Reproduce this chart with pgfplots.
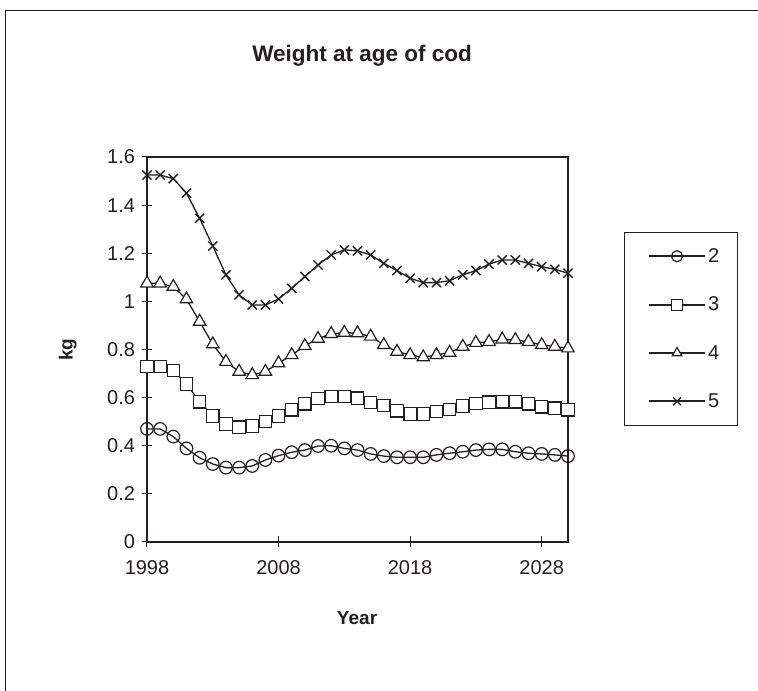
\documentclass[border=0pt]{standalone}
\usepackage{pgfplots}
\pgfplotsset{compat=1.18}
\usepackage{fontspec}
\setmainfont{Liberation Sans}
\definecolor{ink}{HTML}{231F20}

\pgfplotstableread{
year a2 a3 a4 a5
1998 0.470 0.729 1.075 1.525
1999 0.470 0.729 1.075 1.525
2000 0.438 0.712 1.061 1.510
2001 0.389 0.657 1.009 1.450
2002 0.350 0.583 0.916 1.345
2003 0.324 0.524 0.822 1.230
2004 0.309 0.490 0.749 1.110
2005 0.309 0.477 0.708 1.027
2006 0.316 0.482 0.694 0.985
2007 0.341 0.500 0.708 0.985
2008 0.359 0.524 0.743 1.010
2009 0.373 0.549 0.777 1.054
2010 0.382 0.574 0.815 1.103
2011 0.399 0.597 0.845 1.151
2012 0.400 0.604 0.865 1.193
2013 0.389 0.604 0.870 1.214
2014 0.382 0.598 0.868 1.210
2015 0.366 0.580 0.854 1.193
2016 0.357 0.567 0.819 1.158
2017 0.352 0.545 0.791 1.128
2018 0.352 0.532 0.777 1.096
2019 0.352 0.532 0.768 1.078
2020 0.362 0.542 0.777 1.078
2021 0.369 0.550 0.787 1.086
2022 0.375 0.565 0.812 1.110
2023 0.382 0.575 0.828 1.128
2024 0.385 0.581 0.832 1.155
2025 0.385 0.583 0.842 1.172
2026 0.375 0.583 0.840 1.172
2027 0.369 0.574 0.832 1.158
2028 0.366 0.562 0.819 1.144
2029 0.362 0.556 0.812 1.133
2030 0.357 0.549 0.805 1.117
}\cod

\begin{document}
\begin{tikzpicture}[x=1pt,y=1pt]
\useasboundingbox (0,0) rectangle (758,691);
\draw[ink, line width=1pt] (5.5,-5) -- (5.5,680.5) -- (770,680.5);
\begin{axis}[
  at={(147pt,149pt)}, anchor=south west,
  scale only axis, width=421pt, height=385pt,
  xmin=1998, xmax=2030, ymin=0, ymax=1.6,
  axis line style={ink, line width=1.2pt},
  every tick/.style={ink, line width=1pt},
  tick align=center, major tick length=11pt,
  xtick pos=bottom, ytick pos=left,
  xtick={1998,2008,2018,2028},
  xticklabels={1998,2008,2018,2028},
  ytick={0,0.2,0.4,0.6,0.8,1,1.2,1.4,1.6},
  yticklabels={0,0.2,0.4,0.6,0.8,1,1.2,1.4,1.6},
  ticklabel style={font=\fontsize{20}{23}\selectfont, text=ink},
  yticklabel style={xshift=-3pt},
  xticklabel style={yshift=-10pt},
  title={Weight at age of cod},
  title style={at={(0.511,1.247)}, anchor=center, font=\bfseries\fontsize{22.5}{27}\selectfont, text=ink},
  xlabel={Year},
  xlabel style={at={(0.499,-0.197)}, anchor=center, font=\bfseries\fontsize{19}{22}\selectfont, text=ink},
  ylabel={kg},
  ylabel style={at={(-0.188,0.499)}, anchor=center, rotate=0, font=\bfseries\fontsize{19}{22}\selectfont, text=ink},
  clip=false,
  legend style={at={(1.133,0.805)}, anchor=north west, draw=ink, line width=0.8pt,
    font=\fontsize{20}{23}\selectfont, text=ink,
    inner xsep=16pt, inner ysep=14pt, row sep=29pt,
    /tikz/every even column/.append style={column sep=9pt}},
  legend cell align=left,
  legend image code/.code={\path (0pt,0pt); \draw[mark repeat=2,mark phase=2,line width=2pt,mark size=5.5pt] plot coordinates {(8pt,0pt) (36pt,0pt) (64pt,0pt)};},
]
\addplot[ink, line width=1.3pt, mark=o, mark size=6.3pt, mark options={fill=white, line width=1.2pt}] table[x=year,y=a2]{\cod};
\addlegendentry{2}
\addplot[ink, line width=1.3pt, mark=square*, mark size=6.2pt, mark options={fill=white, line width=1.2pt}] table[x=year,y=a3]{\cod};
\addlegendentry{3}
\addplot[ink, line width=1.3pt, mark=triangle*, mark size=7.2pt, mark options={fill=white, line width=1.2pt}] table[x=year,y=a4]{\cod};
\addlegendentry{4}
\addplot[ink, line width=1.3pt, mark=x, mark size=6.5pt, mark options={line width=1.4pt}] table[x=year,y=a5]{\cod};
\addlegendentry{5}
\end{axis}
\end{tikzpicture}
\end{document}
